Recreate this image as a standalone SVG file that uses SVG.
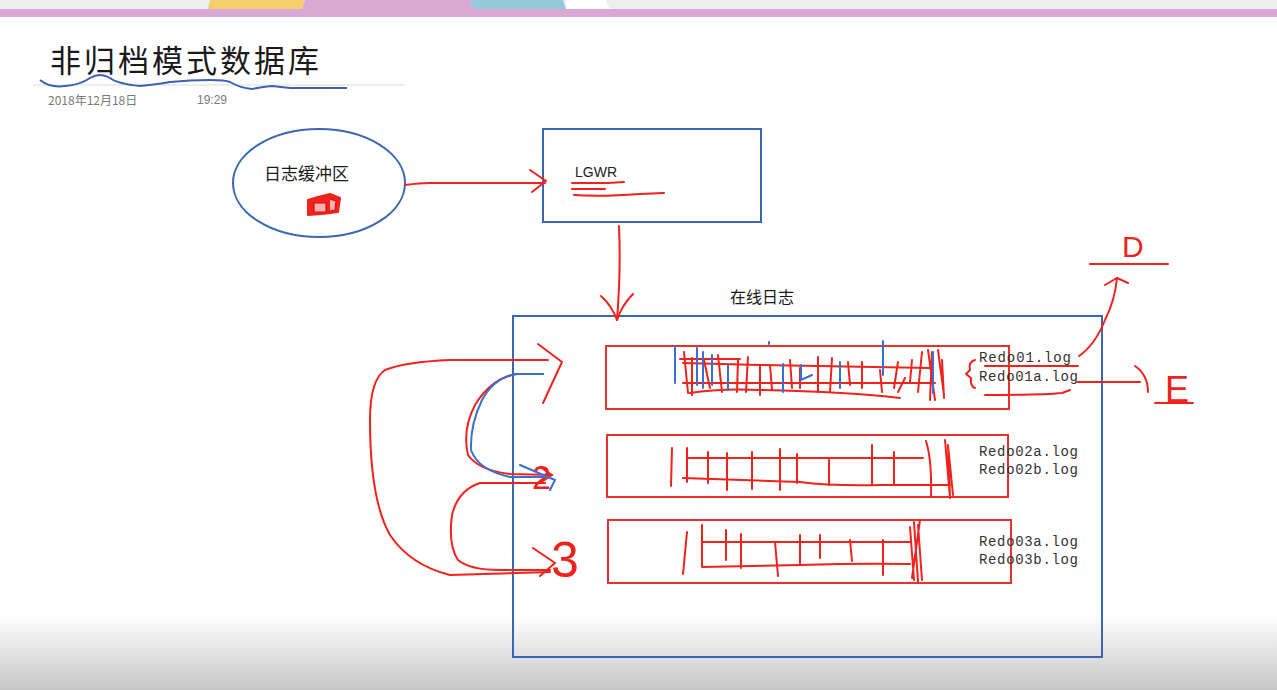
<svg xmlns="http://www.w3.org/2000/svg" width="1277" height="690" viewBox="0 0 1277 690">
<defs>
<linearGradient id="bot" x1="0" y1="0" x2="0" y2="1">
<stop offset="0" stop-color="#ffffff"/>
<stop offset="1" stop-color="#c6c6c6"/>
</linearGradient>
<style>
.blue{fill:none;stroke:#3a67b5;stroke-width:2}
.red{fill:none;stroke:#f0221c;stroke-width:2;stroke-linecap:round;stroke-linejoin:round}
.redbox{fill:none;stroke:#e8312b;stroke-width:2}
.bl{fill:none;stroke:#3a6fd0;stroke-width:2;stroke-linecap:round}
.cjk{font-family:"Noto Sans CJK SC","Liberation Sans",sans-serif}
.dark{fill:#1a1a1a}
.grey{fill:#7a7a7a}
.mono{font-family:"Liberation Mono","DejaVu Sans Mono",monospace;font-size:14px;fill:#333}
.hand{font-family:"Liberation Sans",sans-serif;fill:#f0221c}
</style>
</defs>
<rect width="1277" height="690" fill="#ffffff"/>
<g id="topbar">
<rect x="0" y="0" width="1277" height="9" fill="#eeeeee"/>
<rect x="0" y="9" width="1277" height="8" fill="#d9a9d3"/>
<path d="M208 9 L210 0 H305 L302 9 Z" fill="#f5cf6b"/>
<path d="M302 9 L305 0 H470 L473 9 Z" fill="#d9a9d3"/>
<path d="M473 9 L470 0 H563 L566 9 Z" fill="#96c8dc"/>
<path d="M566 9 V0 H605 L610 9 Z" fill="#ffffff"/>
</g>
<rect x="0" y="615" width="1277" height="75" fill="url(#bot)"/>
<g id="title">
<text x="50" y="72" class="cjk dark" font-size="31" letter-spacing="3">非归档模式数据库</text>
<path d="M33 85 H405" stroke="#dcdcdc" stroke-width="1.2"/>
<path d="M40 80 Q50 88 65 86 Q80 85 90 78 Q100 72 110 78 Q118 84 140 86 Q160 84 170 82 Q190 80 210 80 Q225 80 230 82 Q240 88 252 89 Q262 87 272 86 L290 88 H347" fill="none" stroke="#3a62b0" stroke-width="2"/>
<text x="48" y="105" class="cjk grey" font-size="12">2018年12月18日</text>
<text x="197" y="104" class="grey" font-family="Liberation Sans,sans-serif" font-size="12">19:29</text>
</g>
<g id="buffer">
<ellipse cx="319" cy="183" rx="86" ry="54" class="blue"/>
<text x="264" y="180" class="cjk dark" font-size="17">日志缓冲区</text>
<path d="M308 200 L318 197 L330 194 L340 198 L338 212 L322 214 L308 215 Z" fill="#f0221c" stroke="#f0221c" stroke-width="2" stroke-linejoin="round"/>
<path d="M314 203 H326 V212 H314 Z M330 199 L336 201 L335 210 L330 211" fill="#ffb0b0" stroke="#d01010" stroke-width="1.2"/>
</g>
<g id="lgwr">
<rect x="543" y="129" width="218" height="93" class="blue"/>
<text x="575" y="177" font-family="Liberation Sans,sans-serif" font-size="14" fill="#222">LGWR</text>
<path class="red" d="M572 183 H608 L624 182 M572 189 H605 M574 195 Q600 197 640 194 L664 193"/>
</g>
<g id="online">
<text x="730" y="303" class="cjk dark" font-size="16">在线日志</text>
<rect x="513" y="316" width="589" height="341" class="blue"/>
</g>
<g id="group1">
<rect x="606" y="346" width="403" height="63" class="redbox"/>
<path class="red" d="M680 359 H740 M683 363 L760 365 Q820 366 930 368 M683 383 H935 M690 393 Q720 388 760 390 Q850 392 900 398"/>
<path class="red" d="M684 352 L688 393 M692 358 L692 395 M704 360 L710 388 M718 355 L722 392 M738 360 L737 392 M748 357 L746 392 M760 365 L760 395 M770 365 L772 390 M790 360 L792 388 M800 368 L800 388 M818 357 L818 392 M832 358 L830 392 M848 362 L850 385 M862 362 L862 388 M880 370 L882 392 M898 362 L894 388 M912 360 L910 382 M922 352 L918 392 M928 350 L935 400 M932 352 L930 400 M938 350 L944 395 M942 360 L944 398 M905 378 L898 392"/>
<path class="bl" d="M675 346 V383 M697 348 V385 M703 352 V388 M712 355 V385 M728 365 V390 M783 364 V392 M801 365 V380 L812 375 M840 362 V388 M883 341 V375 M933 352 V393 M769 342 V344"/>
<text x="979" y="362" class="mono" textLength="92">Redo01.log</text>
<text x="979" y="381" class="mono" textLength="99">Redo01a.log</text>
<path class="red" d="M975 360 Q968 362 970 370 L966 374 L971 378 Q970 386 975 388"/>
<path class="red" d="M985 366 H1078 M985 395 Q1040 395 1062 393 L1070 390"/>
</g>
<g id="group2">
<rect x="607" y="435" width="401" height="62" class="redbox"/>
<path class="red" d="M687 458 H923 M683 478 Q740 480 800 482 Q830 486 880 485 H950"/>
<path class="red" d="M672 448 L671 486 M687 448 V482 M708 452 V483 M727 453 V490 M752 452 V489 M780 449 V490 M797 454 V483 M829 460 V485 M872 445 V485 M894 452 V484 M926 441 Q932 460 931 497 M945 440 L950 498 L948 445 L953 495"/>
<text x="979" y="456" class="mono" textLength="99">Redo02a.log</text>
<text x="979" y="474" class="mono" textLength="99">Redo02b.log</text>
</g>
<g id="group3">
<rect x="608" y="520" width="403" height="63" class="redbox"/>
<path class="red" d="M702 542 H910 M703 567 Q760 566 800 565 Q860 563 910 564"/>
<path class="red" d="M687 532 L683 574 M702 525 V567 M726 530 V560 M741 534 V568 M775 542 L778 576 M800 535 V565 M820 535 V558 M850 540 L852 561 M883 540 V575 M910 527 L914 580 M914 522 L918 582 M918 525 L922 580 M920 520 L912 578"/>
<text x="979" y="546" class="mono" textLength="99">Redo03a.log</text>
<text x="979" y="564" class="mono" textLength="99">Redo03b.log</text>
</g>
<g id="annot-d">
<text x="1122" y="257" class="hand" font-size="30">D</text>
<path class="red" d="M1090 264 H1168"/>
</g>
<g id="annot-e">
<text x="1165" y="402" class="hand" font-size="36">E</text>
<path class="red" d="M1155 403 H1193"/>
</g>
<g id="annot-2">
<text x="532" y="489" class="hand" font-size="34">2</text>
</g>
<g id="annot-3">
<text x="551" y="577" class="hand" font-size="50">3</text>
</g>
<g id="connectors">
<path class="red" d="M405 185 Q420 183 430 183 H545"/>
<path class="red" d="M530 170 L546 181 L532 192"/>
<path class="red" d="M619 226 Q621 270 617 320"/>
<path class="red" d="M601 296 Q612 306 617 320 Q622 305 633 294"/>
<path class="red" d="M548 360 H450 Q405 362 385 370 Q370 380 370 420 Q370 500 390 535 Q410 565 450 575 L550 572"/>
<path class="red" d="M538 344 L562 362 L543 403"/>
<path class="red" d="M543 374 H515 Q490 380 475 405 Q462 430 468 455 Q478 470 510 474 L552 475"/>
<path class="red" d="M540 467 L552 475 L540 483"/>
<path class="bl" d="M543 374 H518 Q495 376 482 400 Q470 425 471 450 Q478 470 510 477 H545 M520 465 L555 480 L550 490"/>
<path class="red" d="M545 483 H480 Q458 490 452 515 Q448 545 458 560 Q470 570 500 570 H550"/>
<path class="red" d="M533 548 L555 563 L540 576"/>
<path class="red" d="M1079 356 Q1095 345 1105 320 Q1115 300 1117 278"/>
<path class="red" d="M1105 285 L1117 278 L1128 283"/>
<path class="red" d="M1077 382 H1140"/>
<path class="red" d="M1135 366 Q1148 375 1148 392"/>
</g>
</svg>
